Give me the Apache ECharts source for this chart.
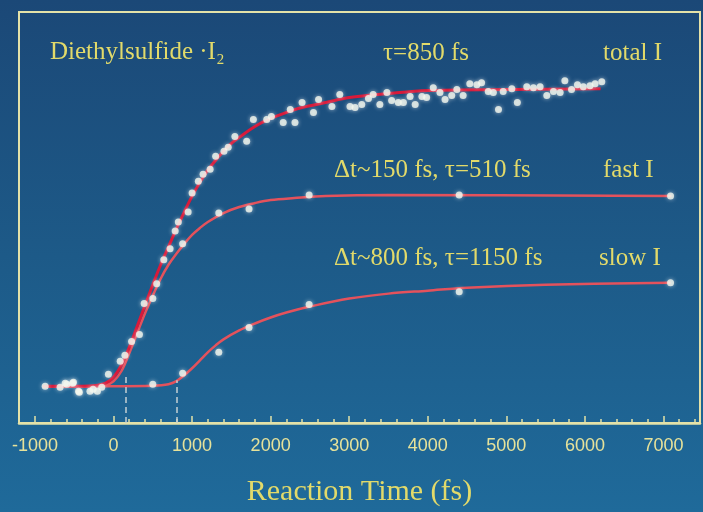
<!DOCTYPE html>
<html><head><meta charset="utf-8">
<script src="https://cdn.jsdelivr.net/npm/echarts@6/dist/echarts.min.js"></script>
<style>html,body{margin:0;padding:0;background:#1b5684}#c{width:703px;height:512px}</style>
</head><body><div id="c"></div>
<script>
// x: reaction time (fs); y: signal (arbitrary units)
const xLabels = [-1000, 0, 1000, 2000, 3000, 4000, 5000, 6000, 7000];
const xMinorTicks = [-1000,-800,-600,-400,-200,0,200,400,600,800,1000,1200,1400,1600,1800,2000,2200,2400,2600,2800,3000,3200,3400,3600,3800,4000,4200,4400,4600,4800,5000,5200,5400,5600,5800,6000,6200,6400,6600,6800,7000,7200,7400];

const totalPoints = [[-870,37],[-680,36],[-615,40],[-595,39],[-520,40],[-510,41],[-445,32],[-435,31],[-300,32],[-260,34],[-205,32],[-150,36],[-65,49],[85,62],[145,68],[230,82],[330,89],[390,120],[550,140],[640,164],[720,175],[785,193],[825,202],[950,212],[1000,231],[1080,243],[1140,250],[1230,255],[1300,268],[1406,273],[1460,277],[1545,288],[1695,283],[1780,305],[1950,305],[2010,308],[2160,302],[2250,315],[2310,302],[2400,322],[2545,312],[2610,325],[2780,318],[2880,330],[3010,318],[3075,317],[3160,320],[3245,326],[3305,330],[3390,320],[3480,332],[3540,324],[3625,322],[3690,322],[3775,328],[3840,320],[3925,328],[3985,327],[4070,337],[4155,332],[4220,325],[4305,329],[4370,335],[4450,329],[4535,341],[4625,340],[4685,342],[4770,333],[4835,332],[4900,315],[4960,333],[5070,336],[5140,322],[5260,338],[5345,337],[5430,338],[5515,329],[5600,333],[5685,332],[5745,344],[5830,335],[5905,340],[5980,338],[6065,339],[6130,341],[6215,343]];
const fastPoints = [[500,125],[880,180],[1340,211],[1725,215],[2490,229],[4400,229],[7090,228]];
const slowPoints = [[500,39],[880,50],[1340,71],[1725,96],[2490,119],[4400,132],[7090,141]];

const totalFit = [[-900,37],[-600,37],[-400,37],[-200,38],[-100,40],[0,46],[100,58],[200,76],[300,97],[400,118],[500,139],[600,159],[700,177],[800,195],[900,212],[1000,228],[1100,242],[1200,254],[1300,264],[1400,273],[1500,281],[1600,287],[1800,298],[2000,306],[2200,312],[2400,317],[2700,322],[3000,327],[3500,331],[4000,334],[5000,335],[6200,336]];
const fastFit = [[-900,37],[-200,37],[-100,38],[0,42],[100,52],[200,70],[300,90],[400,110],[500,128],[600,145],[700,159],[800,170],[900,180],[1000,189],[1100,196],[1200,202],[1400,211],[1600,217],[1800,221],[2000,224],[2300,226],[2700,228],[3500,229],[7100,228]];
const slowFit = [[-900,37],[0,37],[500,37.5],[700,39],[800,42],[900,48],[1000,55],[1100,63],[1200,71],[1300,78],[1400,84],[1600,93],[1800,100],[2000,106],[2200,111],[2500,117],[3000,125],[3500,130],[4000,133],[4500,136],[5500,139],[7090,141]];

const onsetMarks = [[150,48],[800,43]];

const annotations = [
  ['Diethylsulfide ·I₂', 50, 52],
  ['τ=850 fs', 383, 53],
  ['total I', 603, 53],
  ['Δt~150 fs, τ=510 fs', 334, 170],
  ['fast I', 603, 170],
  ['Δt~800 fs, τ=1150 fs', 334, 258],
  ['slow I', 599, 258]
];

const yellow = '#e2da6a';
const frame = '#e4e2a8';
const chart = echarts.init(document.getElementById('c'));
const pointStyle = {color:'#f4f7ee', shadowBlur:4, shadowColor:'rgba(255,255,255,0.7)'};
const fitLine = (data, color, width, z) => ({type:'line', data, smooth:0.35, symbol:'none', lineStyle:{color, width}, z});
const fast = fitLine(fastFit, '#e4525c', 2.5, 2);
fast.markLine = {silent:true, symbol:'none', label:{show:false},
  lineStyle:{color:'#c4d0d4', type:[6,4], width:1.5},
  data: onsetMarks.map(m => [{coord:[m[0],0]},{coord:[m[0],m[1]]}])};
chart.setOption({
  animation:false,
  backgroundColor: new echarts.graphic.LinearGradient(0,0,0,1,[{offset:0,color:'#1b4877'},{offset:0.5,color:'#1d5a88'},{offset:1,color:'#1f6a9a'}]),
  grid:{left:19, top:12, right:3, bottom:87, show:true, borderColor:frame, borderWidth:2},
  xAxis:[{
    type:'value', min:-1203, max:7465,
    axisLine:{lineStyle:{color:frame, width:2.5}},
    axisTick:{customValues:xMinorTicks, inside:true, length:4, lineStyle:{color:frame, width:1.5}},
    axisLabel:{customValues:xLabels, formatter:v => String(v), color:'#e6e29a', fontSize:18, fontFamily:'Liberation Sans', margin:14},
    splitLine:{show:false},
    name:'Reaction Time (fs)', nameLocation:'middle', nameGap:54,
    nameTextStyle:{color:yellow, fontSize:30, fontFamily:'Liberation Serif'}
  },{
    type:'value', min:-1203, max:7465, position:'bottom',
    axisLine:{show:false},
    axisTick:{customValues:xLabels, inside:true, length:7, lineStyle:{color:frame, width:1.5}},
    axisLabel:{show:false}, splitLine:{show:false}
  }],
  yAxis:{type:'value', min:0, max:413, show:false},
  series:[
    fast,
    fitLine(slowFit, '#e4525c', 2.5, 2),
    fitLine(totalFit, '#d81a3a', 3, 3),
    {type:'scatter', data:totalPoints, symbolSize:7, itemStyle:pointStyle, z:4},
    {type:'scatter', data:fastPoints, symbolSize:7, itemStyle:pointStyle, z:4},
    {type:'scatter', data:slowPoints, symbolSize:7, itemStyle:pointStyle, z:4}
  ],
  graphic: annotations.map(a => ({type:'text', x:a[1], y:a[2], z:10,
    style:{text:a[0], fill:yellow, fontSize:25, fontFamily:'Liberation Serif', verticalAlign:'middle', align:'left'}}))
});
</script></body></html>
